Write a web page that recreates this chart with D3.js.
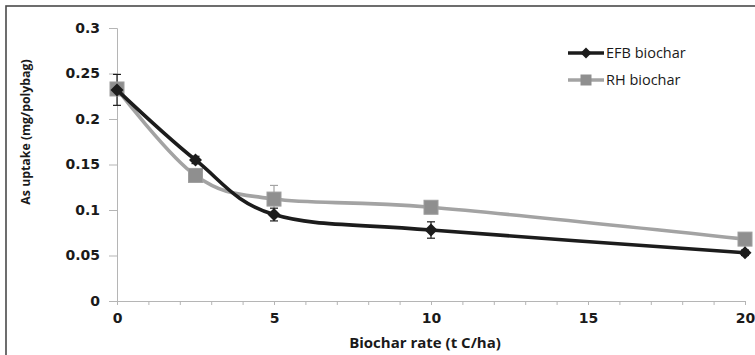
<!DOCTYPE html>
<html>
<head>
<meta charset="utf-8">
<script src="https://cdn.jsdelivr.net/npm/d3@7"></script>
<style>
  html, body { margin: 0; padding: 0; background: #fff; }
  svg { display: block; }
  text { font-family: "Open Sans", "DejaVu Sans", sans-serif; fill: #1a1a1a; }
  .tick text { font-family: "DejaVu Sans", sans-serif; }
</style>
</head>
<body>
<svg id="chart" width="755" height="355"></svg>
<script>
// Biochar application rate (t C/ha)
const rates = [0, 2.5, 5, 10, 20];
// As uptake (mg/polybag) per biochar type, with standard error
const efbValues = [0.232, 0.155, 0.095, 0.078, 0.053];
const efbErrors = [0.017, 0.004, 0.007, 0.009, 0.003];
const rhValues  = [0.233, 0.138, 0.112, 0.103, 0.068];
const rhErrors  = [0.004, 0.004, 0.015, 0.004, 0.003];
const seriesNames = ["EFB biochar", "RH biochar"];
const yTicks = [0, 0.05, 0.1, 0.15, 0.2, 0.25, 0.3];
const xTicks = [0, 5, 10, 15, 20];

const svg = d3.select("#chart");

// outer frame
svg.append("rect")
  .attr("x", 6).attr("y", 6).attr("width", 800).attr("height", 400)
  .attr("fill", "none").attr("stroke", "#4a4a4a").attr("stroke-width", 1.6);

const x = d3.scaleLinear().domain([0, 20]).range([117, 745]);
const y = d3.scaleLinear().domain([0, 0.3]).range([301, 28]);

// y axis
const yAxis = svg.append("g").attr("transform", `translate(${x(0)},0)`)
  .call(d3.axisLeft(y).tickValues(yTicks).tickSize(8).tickPadding(9)
    .tickFormat(d => String(+d.toFixed(2))));
yAxis.select(".domain").attr("stroke", "#b5b5b5");
yAxis.selectAll(".tick line").attr("stroke", "#b5b5b5");
yAxis.selectAll(".tick text").style("font-size", "14px").style("font-weight", "bold").attr("fill", "#2a2a2a");

// x axis: minor ticks every unit, labels every 5
const xAxisMinor = svg.append("g").attr("transform", `translate(0,${y(0)})`)
  .call(d3.axisBottom(x).tickValues(d3.range(0, 21, 1)).tickSize(4).tickFormat(""));
xAxisMinor.select(".domain").attr("stroke", "#b5b5b5");
xAxisMinor.selectAll(".tick line").attr("stroke", "#b5b5b5");

const xAxis = svg.append("g").attr("transform", `translate(0,${y(0)})`)
  .call(d3.axisBottom(x).tickValues(xTicks).tickSize(0).tickPadding(12));
xAxis.select(".domain").remove();
xAxis.selectAll(".tick text").style("font-size", "14px").style("font-weight", "bold").attr("fill", "#2a2a2a");

// axis titles
svg.append("text")
  .attr("x", 425).attr("y", 348)
  .attr("text-anchor", "middle")
  .style("font-size", "15px").style("font-weight", "bold")
  .text("Biochar rate (t C/ha)");

svg.append("text")
  .attr("transform", "translate(30,132) rotate(-90)")
  .attr("text-anchor", "middle")
  .style("font-size", "12.3px").style("font-weight", "bold")
  .text("As uptake (mg/polybag)");

const line = d3.line()
  .x(d => x(d[0])).y(d => y(d[1]))
  .curve(d3.curveCardinal.tension(0));

const series = [
  { name: seriesNames[1], values: rhValues, errors: rhErrors, color: "#a3a3a3", marker: "square", mfill: "#8f8f8f" },
  { name: seriesNames[0], values: efbValues, errors: efbErrors, color: "#1c1c1c", marker: "diamond", mfill: "#1c1c1c" }
];

// error bars
series.forEach(s => {
  const g = svg.append("g");
  rates.forEach((r, i) => {
    const cx = x(r), v = s.values[i], e = s.errors[i];
    g.append("line").attr("x1", cx).attr("x2", cx)
      .attr("y1", y(v + e)).attr("y2", y(v - e))
      .attr("stroke", s.color).attr("stroke-width", 1.2);
    [v + e, v - e].forEach(t => g.append("line")
      .attr("x1", cx - 4).attr("x2", cx + 4)
      .attr("y1", y(t)).attr("y2", y(t))
      .attr("stroke", s.color).attr("stroke-width", 1.2));
  });
});

// diamond marker drawn as a square turned 45 degrees
function diamondPath(cx, cy, r) {
  return `M${cx},${cy - r}L${cx + r},${cy}L${cx},${cy + r}L${cx - r},${cy}Z`;
}

series.forEach(s => {
  const pts = rates.map((r, i) => [r, s.values[i]]);
  svg.append("path").datum(pts)
    .attr("d", line)
    .attr("fill", "none").attr("stroke", s.color).attr("stroke-width", 3.6)
    .attr("stroke-linejoin", "round");
  const m = svg.append("g");
  pts.forEach(p => {
    if (s.marker === "square") {
      m.append("rect")
        .attr("x", x(p[0]) - 7).attr("y", y(p[1]) - 7)
        .attr("width", 14).attr("height", 14)
        .attr("fill", s.mfill).attr("stroke", "#9e9e9e").attr("stroke-width", 1);
    } else {
      m.append("path")
        .attr("d", diamondPath(x(p[0]), y(p[1]), 6.5))
        .attr("fill", s.mfill);
    }
  });
});

// legend
const legend = svg.append("g");
const legendRows = [
  { name: seriesNames[0], color: "#1c1c1c", marker: "diamond", y: 53 },
  { name: seriesNames[1], color: "#a3a3a3", marker: "square", y: 80 }
];
legendRows.forEach(r => {
  legend.append("line").attr("x1", 568).attr("x2", 604)
    .attr("y1", r.y).attr("y2", r.y)
    .attr("stroke", r.color).attr("stroke-width", 3.6);
  if (r.marker === "diamond") {
    legend.append("path").attr("d", diamondPath(586, r.y, 5.5))
      .attr("fill", r.color);
  } else {
    legend.append("rect").attr("x", 580.5).attr("y", r.y - 5.5)
      .attr("width", 11).attr("height", 11).attr("fill", "#8f8f8f");
  }
  legend.append("text").attr("x", 606).attr("y", r.y + 5)
    .style("font-size", "14.5px").text(r.name);
});
</script>
</body>
</html>
